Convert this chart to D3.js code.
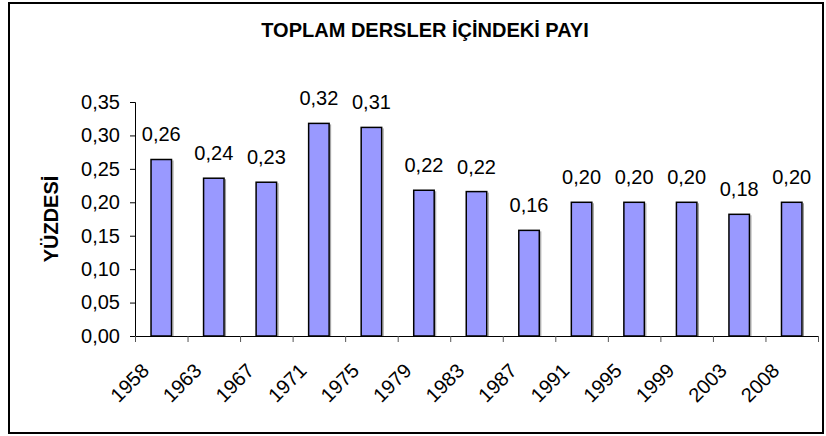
<!DOCTYPE html>
<html>
<head>
<meta charset="utf-8">
<script src="https://cdn.jsdelivr.net/npm/d3@7"></script>
<style>
  body { margin: 0; background: #fff; }
  text { font-family: "Liberation Sans", Arial, sans-serif; }
</style>
</head>
<body>
<div id="chart"></div>
<script>
// veriler
const years = ["1958", "1963", "1967", "1971", "1975", "1979", "1983", "1987", "1991", "1995", "1999", "2003", "2008"];
const shares = [0.264, 0.236, 0.230, 0.318, 0.312, 0.218, 0.216, 0.158, 0.200, 0.200, 0.200, 0.182, 0.200];
const yTicks = [0, 0.05, 0.10, 0.15, 0.20, 0.25, 0.30, 0.35];
const title = "TOPLAM DERSLER İÇİNDEKİ PAYI";
const yTitle = "YÜZDESİ";

const width = 826, height = 436;
const plot = { left: 135, right: 818, top: 102, bottom: 336 };
const fmt = v => d3.format(".2f")(v).replace(".", ",");

const svg = d3.select("#chart").append("svg")
  .attr("width", width)
  .attr("height", height);

// dış çerçeve
svg.append("rect")
  .attr("x", 9).attr("y", 3)
  .attr("width", 814).attr("height", 430)
  .attr("fill", "#fff")
  .attr("stroke", "#000")
  .attr("stroke-width", 2);

const x = d3.scaleBand()
  .domain(years)
  .range([plot.left, plot.right])
  .paddingInner(0.61)
  .paddingOuter(0.305);

// kategori sınırları için
const xEdge = d3.scaleLinear()
  .domain([0, years.length])
  .range([plot.left, plot.right]);

const y = d3.scaleLinear()
  .domain([0, 0.35])
  .range([plot.bottom, plot.top]);

// başlık
svg.append("text")
  .attr("x", 425)
  .attr("y", 37)
  .attr("text-anchor", "middle")
  .style("font-size", "20px")
  .style("font-weight", "bold")
  .text(title);

// y ekseni
const yAxis = svg.append("g")
  .attr("transform", `translate(${plot.left},0)`)
  .call(d3.axisLeft(y).tickValues(yTicks).tickFormat(fmt).tickSize(5).tickPadding(10));
yAxis.select(".domain").attr("stroke", "#000");
yAxis.selectAll("text").style("font-size", "20px").attr("fill", "#000");

// x ekseni (işaretler sınırlarda)
const xAxis = svg.append("g")
  .attr("transform", `translate(0,${plot.bottom})`)
  .call(d3.axisBottom(xEdge).tickValues(d3.range(years.length + 1)).tickFormat("").tickSize(6).tickSizeOuter(0));
xAxis.select(".domain").attr("stroke", "#000");
xAxis.selectAll(".tick line").attr("stroke", "#555");

// yıl etiketleri, 45 derece
svg.append("g")
  .selectAll("text")
  .data(years)
  .join("text")
  .attr("transform", d => `translate(${x(d) + x.bandwidth() / 2 - 11},${plot.bottom + 36}) rotate(-45)`)
  .attr("text-anchor", "end")
  .style("font-size", "20px")
  .text(d => d);

// sütun gölgesi (sağ kenar)
svg.append("g")
  .selectAll("line")
  .data(shares)
  .join("line")
  .attr("x1", (d, i) => x(years[i]) + x.bandwidth() + 1.5)
  .attr("x2", (d, i) => x(years[i]) + x.bandwidth() + 1.5)
  .attr("y1", d => y(d) + 1)
  .attr("y2", plot.bottom)
  .attr("stroke", "#999")
  .attr("stroke-width", 1);

// sütunlar
svg.append("g")
  .selectAll("rect")
  .data(shares)
  .join("rect")
  .attr("x", (d, i) => x(years[i]))
  .attr("y", d => y(d))
  .attr("width", x.bandwidth())
  .attr("height", d => plot.bottom - y(d))
  .attr("fill", "#9999ff")
  .attr("stroke", "#000")
  .attr("stroke-width", 1.5);

// değer etiketleri
svg.append("g")
  .selectAll("text")
  .data(shares)
  .join("text")
  .attr("x", (d, i) => x(years[i]) + x.bandwidth() / 2)
  .attr("y", d => y(d) - 18)
  .attr("text-anchor", "middle")
  .style("font-size", "20px")
  .text(d => fmt(d));

// y ekseni başlığı
svg.append("text")
  .attr("transform", `translate(58,${(plot.top + plot.bottom) / 2}) rotate(-90)`)
  .attr("text-anchor", "middle")
  .style("font-size", "20px")
  .style("font-weight", "bold")
  .text(yTitle);
</script>
</body>
</html>
